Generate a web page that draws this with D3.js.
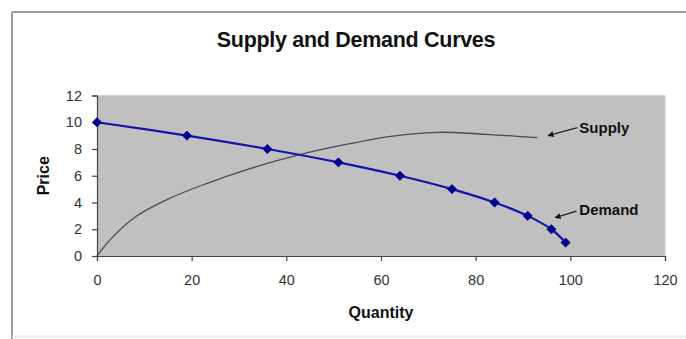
<!DOCTYPE html>
<html>
<head>
<meta charset="utf-8">
<script src="https://cdn.jsdelivr.net/npm/d3@7"></script>
<style>
  html, body { margin: 0; padding: 0; background: #ffffff; }
  svg { display: block; font-family: "Liberation Sans", Arial, sans-serif; }
</style>
</head>
<body>
<svg id="chart" width="686" height="339"></svg>
<script>
// ---- data ----
const title = "Supply and Demand Curves";
const xLabel = "Quantity";
const yLabel = "Price";
const xTicks = [0, 20, 40, 60, 80, 100, 120];
const yTicks = [0, 2, 4, 6, 8, 10, 12];

const demandQuantity = [0, 19, 36, 51, 64, 75, 84, 91, 96, 99];
const demandPrice    = [10, 9, 8, 7, 6, 5, 4, 3, 2, 1];

const supplyQuantity = [0, 3, 8, 15, 23, 32, 42, 52, 62, 72, 82, 93];
const supplyPrice    = [0, 1.3, 2.9, 4.25, 5.4, 6.5, 7.5, 8.3, 8.95, 9.25, 9.1, 8.85];

// annotation labels: [label, tipQ, tipP, lineStartQ, lineStartP, textQ, textP]
const annotationLabels = ["Supply", "Demand"];
const annotationTip    = [[95.3, 9.0], [96.8, 2.87]];
const annotationStart  = [[101.5, 9.6], [101.3, 3.35]];
const annotationText   = [[101.9, 9.17], [101.9, 3.1]];

// ---- layout ----
const W = 686, H = 339;
const margin = { left: 97, right: 21, top: 95.5, bottom: 83 };
const svg = d3.select("#chart");

const x = d3.scaleLinear().domain([0, 120]).range([margin.left, W - margin.right]);
const y = d3.scaleLinear().domain([0, 12]).range([H - margin.bottom, margin.top]);

// outer frame
svg.append("line").attr("x1", 12).attr("x2", W).attr("y1", 12).attr("y2", 12)
  .attr("stroke", "#9c9c9c").attr("stroke-width", 2);
svg.append("line").attr("x1", 12).attr("x2", 12).attr("y1", 12).attr("y2", H)
  .attr("stroke", "#9c9c9c").attr("stroke-width", 2);
svg.append("line").attr("x1", 12).attr("x2", W).attr("y1", H - 2.5).attr("y2", H - 2.5)
  .attr("stroke", "#ececec").attr("stroke-width", 2);

// title
svg.append("text").attr("x", 356).attr("y", 47)
  .attr("text-anchor", "middle").attr("font-size", 21.5).attr("font-weight", "bold")
  .attr("fill", "#111").attr("letter-spacing", -0.3).text(title);

// plot area
svg.append("rect")
  .attr("x", x(0)).attr("y", y(12))
  .attr("width", x(120) - x(0)).attr("height", y(0) - y(12))
  .attr("fill", "#c0c0c0");
svg.append("path")
  .attr("d", `M${x(0)},${y(12)}H${x(120)}V${y(0)}`)
  .attr("fill", "none").attr("stroke", "#d2d2d2").attr("stroke-width", 1.2);

// axes
const xAxis = d3.axisBottom(x).tickValues(xTicks).tickSize(5).tickPadding(14);
const yAxis = d3.axisLeft(y).tickValues(yTicks).tickSize(5).tickPadding(10);

const gx = svg.append("g").attr("transform", `translate(0,${y(0)})`).call(xAxis);
const gy = svg.append("g").attr("transform", `translate(${x(0)},0)`).call(yAxis);
[gx, gy].forEach(g => {
  g.selectAll("path, line").attr("stroke", "#444").attr("stroke-width", 1.2);
  g.selectAll("text").attr("font-size", 14.5).attr("fill", "#333")
    .attr("font-family", "'Liberation Sans', Arial, sans-serif");
});

// axis titles
svg.append("text").attr("x", x(60)).attr("y", 318)
  .attr("text-anchor", "middle").attr("font-size", 16).attr("font-weight", "bold")
  .attr("fill", "#111").text(xLabel);
svg.append("text").attr("transform", `translate(49,${y(6)}) rotate(-90)`)
  .attr("text-anchor", "middle").attr("font-size", 16).attr("font-weight", "bold")
  .attr("fill", "#111").text(yLabel);

// supply curve
const supply = supplyQuantity.map((q, i) => [q, supplyPrice[i]]);
svg.append("path").datum(supply)
  .attr("d", d3.line().x(d => x(d[0])).y(d => y(d[1])).curve(d3.curveCatmullRom.alpha(0.5)))
  .attr("fill", "none").attr("stroke", "#4a4a4a").attr("stroke-width", 1.3);

// demand curve
const demand = demandQuantity.map((q, i) => [q, demandPrice[i]]);
svg.append("path").datum(demand)
  .attr("d", d3.line().x(d => x(d[0])).y(d => y(d[1])).curve(d3.curveCatmullRom))
  .attr("fill", "none").attr("stroke", "#1414a8").attr("stroke-width", 2.2);
svg.append("g").selectAll("path").data(demand).join("path")
  .attr("transform", d => `translate(${x(d[0])},${y(d[1])}) rotate(45)`)
  .attr("d", d3.symbol().type(d3.symbolSquare).size(44))
  .attr("fill", "#00008c").attr("stroke", "#00008c").attr("stroke-width", 0.6);

// annotations
const defs = svg.append("defs");
defs.append("marker").attr("id", "arrow")
  .attr("viewBox", "0 0 10 10").attr("refX", 9).attr("refY", 5)
  .attr("markerWidth", 6).attr("markerHeight", 6).attr("orient", "auto")
  .attr("markerUnits", "userSpaceOnUse")
  .append("path").attr("d", "M0,0L10,5L0,10Z").attr("fill", "#111");

annotationLabels.forEach((lab, i) => {
  svg.append("line")
    .attr("x1", x(annotationStart[i][0])).attr("y1", y(annotationStart[i][1]))
    .attr("x2", x(annotationTip[i][0])).attr("y2", y(annotationTip[i][1]))
    .attr("stroke", "#222").attr("stroke-width", 1.2)
    .attr("marker-end", "url(#arrow)");
  svg.append("text")
    .attr("x", x(annotationText[i][0])).attr("y", y(annotationText[i][1]))
    .attr("font-size", 15).attr("font-weight", "bold").attr("fill", "#111")
    .text(lab);
});
</script>
</body>
</html>
